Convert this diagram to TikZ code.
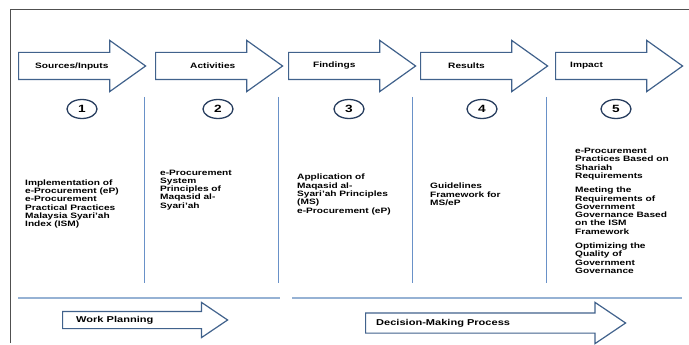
\documentclass[tikz,border=0pt]{standalone}
\usepackage{fontspec}
\setmainfont{Liberation Sans}[FakeStretch=1.3]
\usetikzlibrary{shapes.arrows,shapes.geometric,positioning}

\definecolor{arrowblue}{RGB}{65,98,140}
\definecolor{numblue}{RGB}{40,62,95}
\definecolor{divblue}{RGB}{105,145,200}
\definecolor{lineblue}{RGB}{150,178,212}
\definecolor{framegray}{RGB}{80,80,80}

\tikzset{
  stage/.style={single arrow, draw=arrowblue, fill=white, line width=1.2pt,
    minimum height=127pt, inner xsep=0pt, inner ysep=13pt,
    single arrow head extend=12pt, single arrow tip angle=71, anchor=tail},
  flow/.style={single arrow, draw=arrowblue, fill=white, line width=1.2pt,
    single arrow tip angle=68, inner xsep=0pt, anchor=tail},
  stagelabel/.style={font=\fontsize{7.8}{8.3}\selectfont\bfseries, anchor=west, inner sep=0pt},
  flowlabel/.style={font=\fontsize{8.5}{9}\selectfont\bfseries, anchor=west, inner sep=0pt},
  num/.style={ellipse, draw=numblue, line width=1.3pt, minimum width=30pt,
    minimum height=19pt, inner sep=0pt, font=\fontsize{10.5}{10.5}\selectfont\bfseries},
  body/.style={font=\fontsize{7.8}{8.3}\selectfont\bfseries, align=left,
    anchor=north west, inner sep=0pt},
  divider/.style={draw=divblue, line width=1pt},
  phaseline/.style={draw=lineblue, line width=1.3pt}
}

\begin{document}
\begin{tikzpicture}[x=1pt, y=-1pt]
  \useasboundingbox (0,0) rectangle (689,345);

  % frame
  \draw[framegray, line width=0.8pt] (10,343) -- (10,9) -- (689,9);

  % stage arrows along the top
  \foreach \n/\x/\off/\txt in {src/18/17/{Sources/Inputs}, act/155/35/Activities,
      fnd/288/25/Findings, res/420/28/Results, imp/555/15/Impact}{
    \node[stage] (\n) at (\x,66) {};
    \node[stagelabel, right=\off pt of \n.tail] (\n-lbl) {\txt};
  }

  % numbered stages
  \foreach \i/\x in {1/82, 2/218, 3/349, 4/482, 5/616}
    \node[num] (n\i) at (\x,109) {\i};

  % column dividers
  \foreach \x in {144, 278, 412, 546}
    \draw[divider] (\x,97) -- (\x,283);

  % column texts
  \node[body] (t1) at (25,179.5) {Implementation of\\ e-Procurement (eP)\\ e-Procurement\\
    Practical Practices\\ Malaysia Syari'ah\\ Index (ISM)};
  \node[body] (t2) at (160,169.5) {e-Procurement\\ System\\ Principles of\\ Maqasid al-\\ Syari'ah};
  \node[body] (t3) at (297,174) {Application of\\ Maqasid al-\\ Syari'ah Principles\\
    (MS)\\ e-Procurement (eP)};
  \node[body] (t4) at (430,183) {Guidelines\\ Framework for\\ MS/eP};
  \node[body] (t5) at (575,148) {e-Procurement\\ Practices Based on\\ Shariah\\ Requirements\\[6pt]
    Meeting the\\ Requirements of\\ Government\\ Governance Based\\ on the ISM\\ Framework\\[6pt]
    Optimizing the\\ Quality of\\ Government\\ Governance};

  % phase lines
  \draw[phaseline] (18,298) -- (280,298);
  \draw[phaseline] (292,298) -- (682,298);

  % phase arrows
  \node[flow, minimum height=165pt, inner ysep=8pt, single arrow head extend=9pt] (wp) at (62,320) {};
  \node[flowlabel, right=14pt of wp.tail] (wp-lbl) {Work Planning};
  \node[flow, minimum height=260pt, inner ysep=9.5pt, single arrow head extend=10.5pt] (dmp) at (365,323) {};
  \node[flowlabel, right=11pt of dmp.tail] (dmp-lbl) {Decision-Making Process};
\end{tikzpicture}
\end{document}
